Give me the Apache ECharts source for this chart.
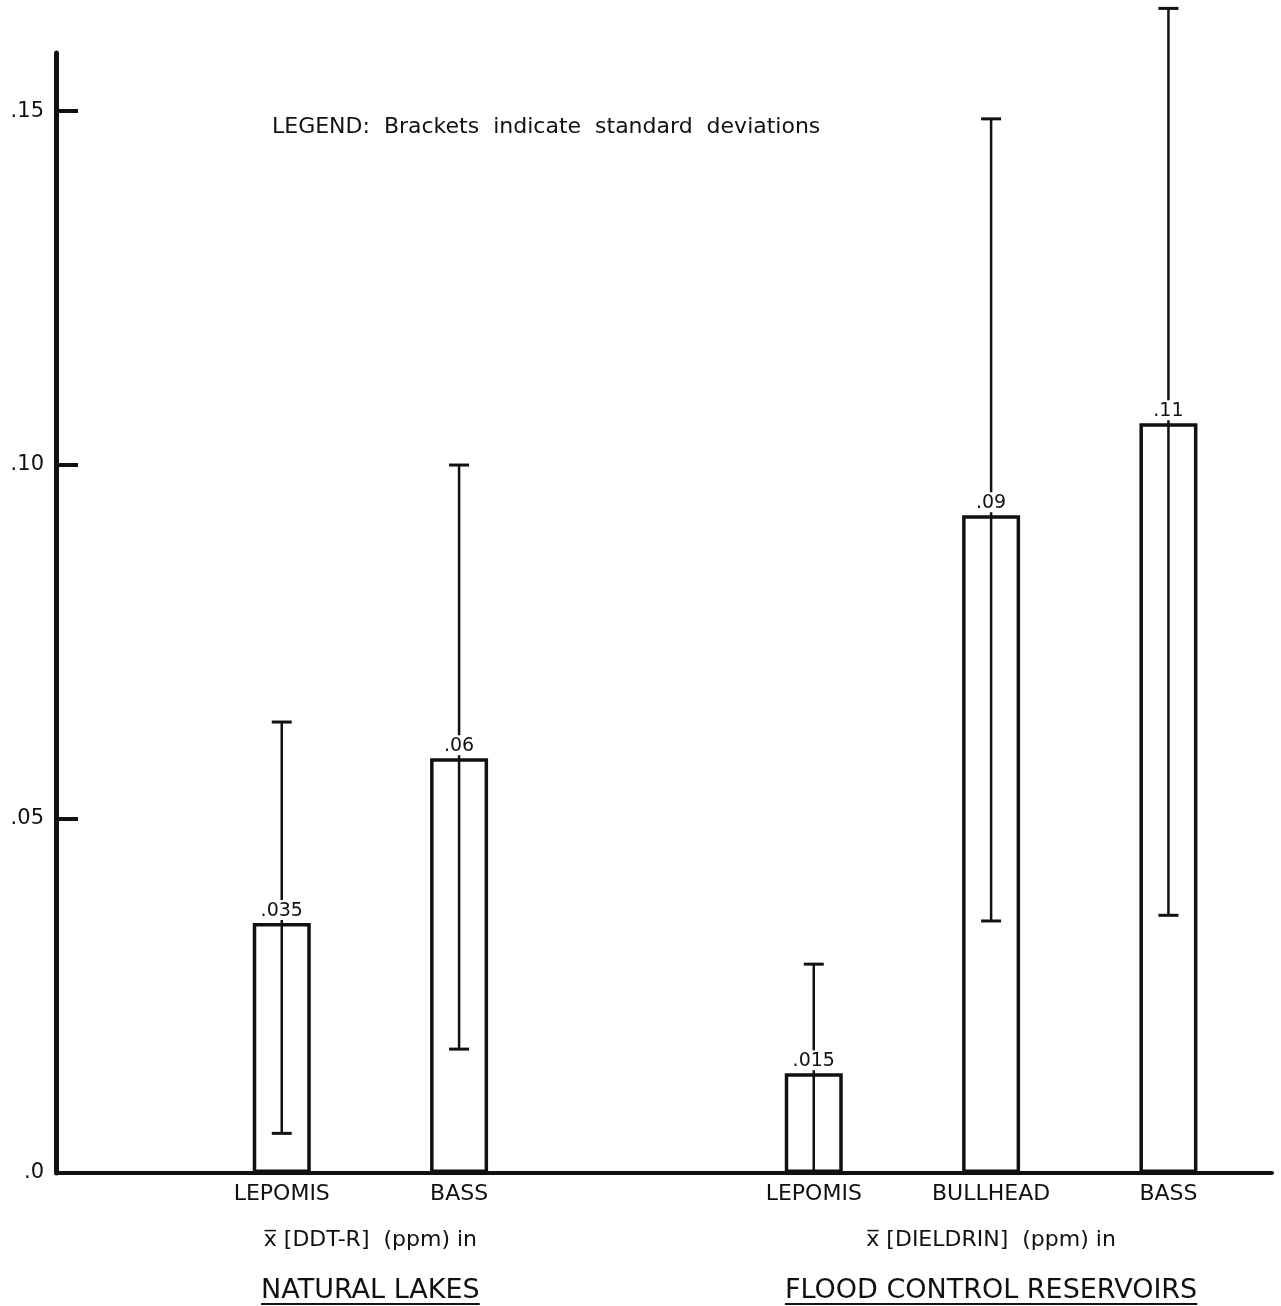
<!DOCTYPE html>
<html>
<head>
<meta charset="utf-8">
<script src="https://cdn.jsdelivr.net/npm/echarts@6/dist/echarts.min.js"></script>
<style>
html,body{margin:0;padding:0;background:#fff;}
#chart{width:1281px;height:1306px;}
</style>
</head>
<body>
<div id="chart"></div>
<script>
// ---- data ----
const categories = ['LEPOMIS', 'BASS', 'LEPOMIS', 'BULLHEAD', 'BASS'];
const slots = [0, 1, 3, 4, 5];               // category slots (gap between the two groups)
const means = [0.0353, 0.0586, 0.0141, 0.0929, 0.1059];
const valueLabels = ['.035', '.06', '.015', '.09', '.11'];
const sdHigh = [0.0637, 0.1000, 0.0295, 0.1489, 0.1645];
const sdLow = [0.0056, 0.0175, 0.0, 0.0356, 0.0364];
const yTickValues = [0, 0.05, 0.10, 0.15];
const yTickLabels = ['.0', '.05', '.10', '.15'];
const groupTitles = ['x\u0305 [DDT-R]  (ppm) in', 'x\u0305 [DIELDRIN]  (ppm) in'];
const groupNames = ['NATURAL LAKES', 'FLOOD CONTROL RESERVOIRS'];
const groupSlots = [[0, 1], [3, 4, 5]];
const legendText = 'LEGEND:  Brackets  indicate  standard  deviations';

const FONT = '"DejaVu Sans", Verdana, sans-serif';
const INK = '#111';

const chart = echarts.init(document.getElementById('chart'), null, {renderer: 'canvas'});

const barData = slots.map((s, i) => [s, means[i]]);
const errData = slots.map((s, i) => [s, sdHigh[i], sdLow[i]]);

const option = {
  backgroundColor: '#fff',
  animation: false,
  grid: {left: 56, right: 9, top: 53, bottom: 133, containLabel: false},
  xAxis: {
    type: 'value',
    min: -1.273,
    max: 5.584,
    splitLine: {show: false},
    axisLine: {show: true, onZero: false, lineStyle: {color: INK, width: 4}},
    axisTick: {show: false},
    axisLabel: {
      show: true,
      customValues: slots,
      formatter: function (v) {
        const i = slots.indexOf(Math.round(v));
        return i >= 0 ? categories[i] : '';
      },
      margin: 10,
      fontSize: 22,
      fontFamily: FONT,
      color: INK
    }
  },
  yAxis: {
    type: 'value',
    min: 0,
    max: 0.1582,
    splitLine: {show: false},
    axisLine: {show: true, onZero: false, lineStyle: {color: INK, width: 5}},
    axisTick: {show: true, inside: true, length: 22, customValues: yTickValues, lineStyle: {color: INK, width: 4}},
    axisLabel: {
      customValues: yTickValues,
      formatter: function (v) {
        let best = 0;
        yTickValues.forEach((t, i) => { if (Math.abs(t - v) < Math.abs(yTickValues[best] - v)) best = i; });
        return yTickLabels[best];
      },
      margin: 12,
      fontSize: 21,
      fontFamily: FONT,
      color: INK
    }
  },
  series: [
    {
      type: 'custom',
      z: 1,
      clip: false,
      data: errData,
      renderItem: function (params, api) {
        const x = api.coord([api.value(0), 0])[0];
        const yHi = api.coord([0, api.value(1)])[1];
        const lo = api.value(2);
        const yLo = api.coord([0, lo])[1];
        const half = 10;
        const children = [
          {type: 'line', shape: {x1: x, y1: yHi, x2: x, y2: yLo}, style: {stroke: INK, lineWidth: 2.5}},
          {type: 'line', shape: {x1: x - half, y1: yHi, x2: x + half, y2: yHi}, style: {stroke: INK, lineWidth: 3}}
        ];
        if (lo > 0) {
          children.push({type: 'line', shape: {x1: x - half, y1: yLo, x2: x + half, y2: yLo}, style: {stroke: INK, lineWidth: 3}});
        }
        return {type: 'group', children: children};
      }
    },
    {
      type: 'bar',
      z: 2,
      data: barData,
      barWidth: 58,
      itemStyle: {color: 'rgba(255,255,255,0)', borderColor: INK, borderWidth: 3.5},
      label: {
        show: true,
        position: 'top',
        distance: 3,
        formatter: function (p) { return valueLabels[p.dataIndex]; },
        fontSize: 19,
        fontFamily: FONT,
        color: INK,
        backgroundColor: '#fff',
        padding: [1, 3, 0, 3]
      }
    }
  ]
};
chart.setOption(option);

// Group captions placed at each group's centre on the x scale
const els = [];
groupSlots.forEach((g, gi) => {
  const mid = (Math.min(...g) + Math.max(...g)) / 2;
  const px = chart.convertToPixel({gridIndex: 0}, [mid, 0])[0];
  els.push({
    type: 'text', x: px, y: 1240,
    style: {text: groupTitles[gi], font: '22px ' + FONT, fill: INK, textAlign: 'center', textVerticalAlign: 'middle'}
  });
  els.push({
    type: 'text', x: px, y: 1291,
    style: {text: groupNames[gi], font: '27px ' + FONT, fill: INK, textAlign: 'center', textVerticalAlign: 'middle'}
  });
  const w = echarts.format.getTextRect ? echarts.format.getTextRect(groupNames[gi], '27px ' + FONT).width : 220;
  els.push({
    type: 'line',
    shape: {x1: px - w / 2, y1: 1304, x2: px + w / 2, y2: 1304},
    style: {stroke: INK, lineWidth: 2}
  });
});
els.push({
  type: 'text', x: 272, y: 127,
  style: {text: legendText, font: '22px ' + FONT, fill: INK, textAlign: 'left', textVerticalAlign: 'middle'}
});
chart.setOption({graphic: {elements: els}});
</script>
</body>
</html>
